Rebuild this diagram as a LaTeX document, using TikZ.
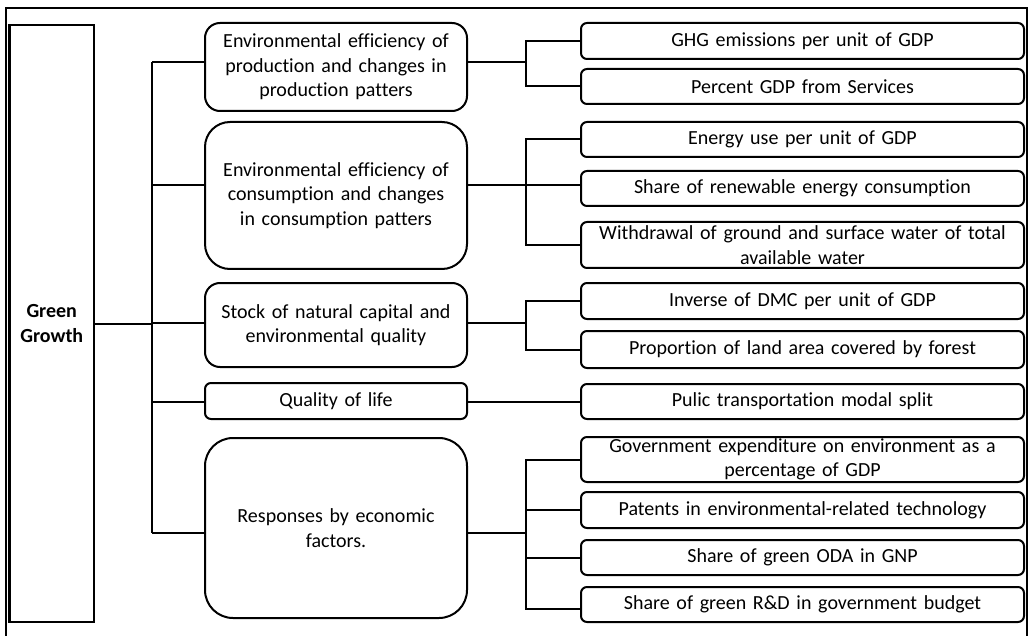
\documentclass[tikz,border=0pt]{standalone}
\usepackage{fontspec}
\setmainfont{Carlito}[Ligatures=CommonOff]
\usetikzlibrary{calc}
\begin{document}
\begin{tikzpicture}[x=1pt,y=-1pt,
  line width=2pt,
  txt/.style={font=\fontsize{20}{24.4}\selectfont, align=center, inner sep=0pt, draw=black, line width=2pt},
  midbox/.style={txt, minimum width=262pt, text width=258pt},
  rbox/.style={txt, minimum width=443pt, text width=439pt, rounded corners=6pt, minimum height=36pt},
  conn/.style={line width=2pt}]
\useasboundingbox (0,0) rectangle (1030,636);
\clip (0,0) rectangle (1030,636);
\fill[white] (0,0) rectangle (1030,636);
% outer frame
\draw[line width=2.2pt] (6,645) -- (6,8) -- (1027,8) -- (1027,645);

% root
\node[draw, line width=2.2pt, minimum width=84.5pt, minimum height=597pt, inner sep=0pt, align=center,
  font=\fontsize{20}{24.4}\selectfont\bfseries] (gg) at (51.75,323.5) {Green\\Growth};

% middle level
\node[midbox, minimum height=88pt, rounded corners=15pt] (M1) at (336,67)
  {Environmental efficiency of\\production and changes in\\production patters};
\node[midbox, minimum height=147pt, rounded corners=25pt] (M2) at (336,195.5)
  {Environmental efficiency of\\consumption and changes\\in consumption patters};
\node[midbox, minimum height=84pt, rounded corners=15pt] (M3) at (336,325)
  {Stock of natural capital and\\environmental quality};
\node[midbox, minimum height=36pt, rounded corners=6pt] (M4) at (336,401)
  {Quality of life};
\node[midbox, minimum height=180pt, rounded corners=28pt] (M5) at (336,528)
  {Responses by economic\\factors.};

% right level
\node[rbox] (R1) at (802.5,41) {GHG emissions per unit of GDP};
\node[rbox, minimum height=35pt] (R2) at (802.5,86.5) {Percent GDP from Services};
\node[rbox, minimum height=35pt] (R3) at (802.5,139.5) {Energy use per unit of GDP};
\node[rbox, minimum height=35pt] (R4) at (802.5,188.5) {Share of renewable energy consumption};
\node[rbox, minimum height=46pt] (R5) at (802.5,245) {Withdrawal of ground and surface water of total\\available water};
\node[rbox] (R6) at (802.5,301) {Inverse of DMC per unit of GDP};
\node[rbox, minimum height=37pt] (R7) at (802.5,349.5) {Proportion of land area covered by forest};
\node[rbox, minimum height=35pt] (R8) at (802.5,401.5) {Pulic transportation modal split};
\node[rbox, minimum height=45pt] (R9) at (802.5,459.5) {Government expenditure on environment as a\\percentage of GDP};
\node[rbox] (R10) at (802.5,510) {Patents in environmental-related technology};
\node[rbox, minimum height=35pt] (R11) at (802.5,557.5) {Share of green ODA in GNP};
\node[rbox, minimum height=35pt] (R12) at (802.5,604.5) {Share of green R\&D in government budget};

% helper coordinates
\coordinate (tk) at (152,0);
\coordinate (br) at (526,0);
\coordinate (a1) at ($(M1.west)+(0,-5)$);
\coordinate (a2) at ($(M2.west)+(0,-10.5)$);
\coordinate (a3) at ($(M3.west)+(0,-2)$);
\coordinate (a4) at ($(M4.west)+(0,1)$);
\coordinate (a5) at ($(M5.west)+(0,5)$);
\coordinate (e1) at ($(M1.east)+(0,-5)$);
\coordinate (e2) at ($(M2.east)+(0,-10.5)$);
\coordinate (e3) at ($(M3.east)+(0,-2)$);
\coordinate (e4) at ($(M4.east)+(0,1)$);
\coordinate (e5) at ($(M5.east)+(0,5)$);

% root to trunk
\draw[conn] (gg.east) -- (gg.east -| tk);
\draw[conn] (a1 -| tk) -- (a5 -| tk);
\foreach \i in {1,...,5} { \draw[conn] (a\i -| tk) -- (a\i); }

% middle to brackets
\draw[conn] (e1) -- (e1 -| br);
\draw[conn] (R1.west) -- (R1.west -| br) -- (R2.west -| br) -- (R2.west);

\draw[conn] (e2) -- (e2 -| R4.west);
\draw[conn] (R3.west) -- (R3.west -| br) -- (R5.west -| br) -- (R5.west);

\draw[conn] (e3) -- (e3 -| br);
\draw[conn] (R6.west) -- (R6.west -| br) -- (R7.west -| br) -- (R7.west);

\draw[conn] (e4) -- (e4 -| R8.west);

\draw[conn] (e5) -- (e5 -| br);
\draw[conn] (R9.west) -- (R9.west -| br) -- ($(R12.west -| br)+(0,4)$) -- ($(R12.west)+(0,4)$);
\draw[conn] (R10.west -| br) -- (R10.west);
\draw[conn] (R11.west -| br) -- (R11.west);
\end{tikzpicture}
\end{document}
